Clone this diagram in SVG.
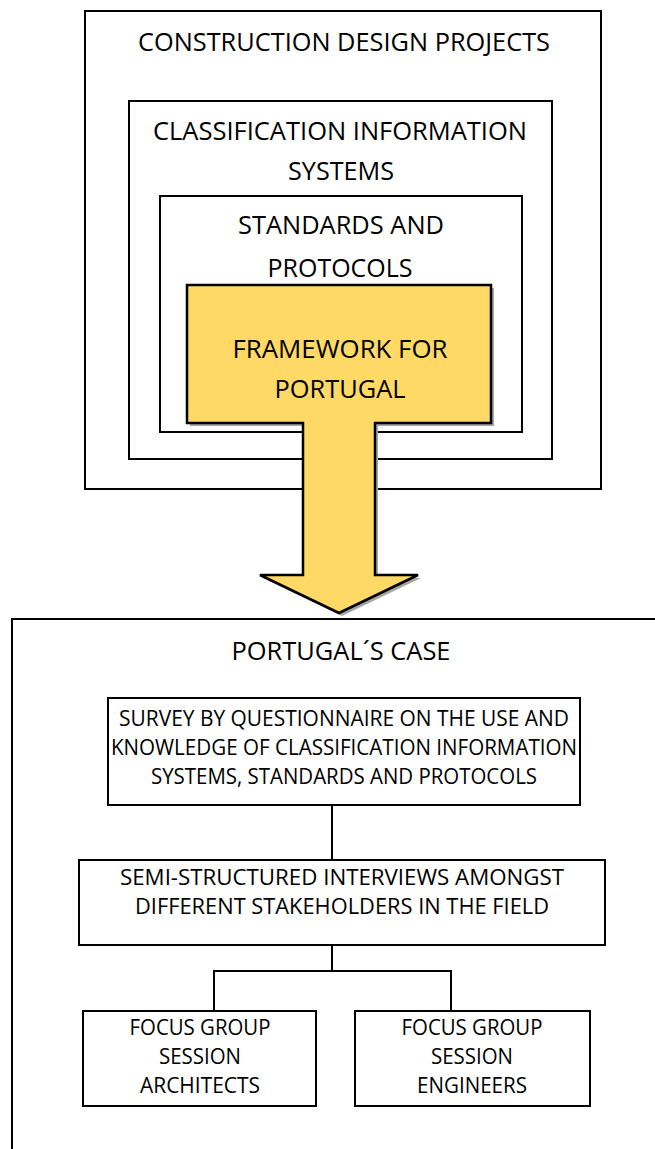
<svg xmlns="http://www.w3.org/2000/svg" width="655" height="1149" viewBox="0 0 655 1149">
<style>
.frame{fill:#fff;stroke:#000;stroke-width:2}
.box{fill:#fff;stroke:#000;stroke-width:2}
.t{font-family:"Open Sans","Liberation Sans",sans-serif;fill:#000;text-anchor:middle}
.big{font-size:26px}
.small{font-size:21px}
.conn{fill:none;stroke:#000;stroke-width:2}
</style>
<rect width="655" height="1149" fill="#fff"/>
<g id="construction">
<rect class="frame" x="85" y="11" width="516" height="478"/>
<text class="t big" x="344" y="51" textLength="412" lengthAdjust="spacingAndGlyphs">CONSTRUCTION DESIGN PROJECTS</text>
</g>
<g id="classification">
<rect class="frame" x="129" y="101" width="423" height="358"/>
<text class="t big" x="340" y="140" textLength="374" lengthAdjust="spacingAndGlyphs">CLASSIFICATION INFORMATION</text>
<text class="t big" x="341" y="180" textLength="106" lengthAdjust="spacingAndGlyphs">SYSTEMS</text>
</g>
<g id="standards">
<rect class="frame" x="160" y="196" width="362" height="236"/>
<text class="t big" x="341" y="234" textLength="206" lengthAdjust="spacingAndGlyphs">STANDARDS AND</text>
<text class="t big" x="340" y="277" textLength="145" lengthAdjust="spacingAndGlyphs">PROTOCOLS</text>
</g>
<g id="framework">
<path d="M190 288 H494 V426 H378 V578 H421 L342 616 L263 578 H306 V426 H190 Z" fill="#a6a6a6" stroke="none"/>
<path d="M187 285 H491 V423 H375 V575 H418 L339 613 L260 575 H303 V423 H187 Z" fill="#ffd966" stroke="#000" stroke-width="2.5" stroke-linejoin="miter"/>
<text class="t big" x="340" y="358" textLength="215" lengthAdjust="spacingAndGlyphs">FRAMEWORK FOR</text>
<text class="t big" x="340" y="398" textLength="131" lengthAdjust="spacingAndGlyphs">PORTUGAL</text>
</g>
<g id="portugal-case">
<rect class="frame" x="12" y="619" width="700" height="600"/>
<text class="t big" x="341" y="660" textLength="219" lengthAdjust="spacingAndGlyphs">PORTUGAL´S CASE</text>
</g>
<g id="connectors">
<path class="conn" d="M332 805 V860"/>
<path class="conn" d="M332 945 V971 M214 1011 V971 H451 V1011"/>
</g>
<g id="survey">
<rect class="box" x="108" y="698" width="472" height="107"/>
<text class="t small" x="344" y="726" textLength="450" lengthAdjust="spacingAndGlyphs">SURVEY BY QUESTIONNAIRE ON THE USE AND</text>
<text class="t small" x="344" y="755" textLength="466" lengthAdjust="spacingAndGlyphs">KNOWLEDGE OF CLASSIFICATION INFORMATION</text>
<text class="t small" x="344" y="784" textLength="386" lengthAdjust="spacingAndGlyphs">SYSTEMS, STANDARDS AND PROTOCOLS</text>
</g>
<g id="interviews">
<rect class="box" x="79" y="860" width="526" height="85"/>
<text class="t small" x="342" y="885" textLength="444" lengthAdjust="spacingAndGlyphs">SEMI-STRUCTURED INTERVIEWS AMONGST</text>
<text class="t small" x="342" y="914" textLength="414" lengthAdjust="spacingAndGlyphs">DIFFERENT STAKEHOLDERS IN THE FIELD</text>
</g>
<g id="focus-architects">
<rect class="box" x="83" y="1011" width="233" height="95"/>
<text class="t small" x="200" y="1035" textLength="141" lengthAdjust="spacingAndGlyphs">FOCUS GROUP</text>
<text class="t small" x="200" y="1064" textLength="82" lengthAdjust="spacingAndGlyphs">SESSION</text>
<text class="t small" x="200" y="1093" textLength="120" lengthAdjust="spacingAndGlyphs">ARCHITECTS</text>
</g>
<g id="focus-engineers">
<rect class="box" x="355" y="1011" width="235" height="95"/>
<text class="t small" x="472" y="1035" textLength="141" lengthAdjust="spacingAndGlyphs">FOCUS GROUP</text>
<text class="t small" x="472" y="1064" textLength="82" lengthAdjust="spacingAndGlyphs">SESSION</text>
<text class="t small" x="472" y="1093" textLength="110" lengthAdjust="spacingAndGlyphs">ENGINEERS</text>
</g>
</svg>
